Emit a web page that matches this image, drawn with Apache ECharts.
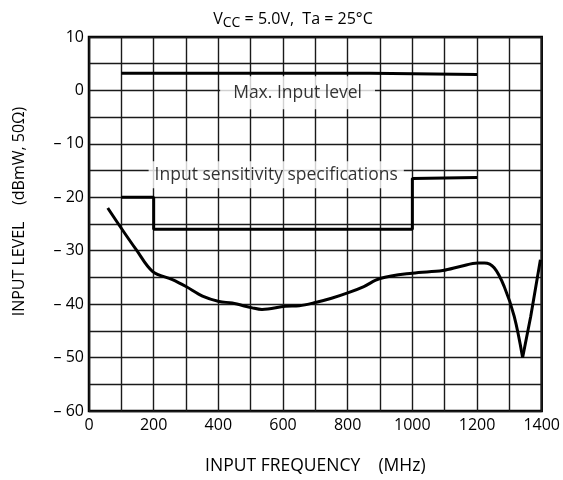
<!DOCTYPE html>
<html>
<head>
<meta charset="utf-8">
<script src="https://cdn.jsdelivr.net/npm/echarts@6/dist/echarts.min.js"></script>
<style>html,body{margin:0;padding:0;background:#fff}#c{width:563px;height:480px}</style>
</head>
<body>
<div id="c"></div>
<script>
// ---- data ----
var maxInputLevel = [[100, 3.2], [870, 3.2], [870, 3.0], [1200, 3.0]];
var sensitivitySpec = [[100, -20], [200, -20], [200, -26], [1000, -26], [1000, -16.5], [1200, -16.3]];
var responseCurve = [[58,-22],[100,-25.8],[146,-29.8],[197,-33.9],[258,-35.4],[300,-36.7],[351,-38.5],[402,-39.5],[443,-39.8],[505,-40.7],[535,-41.0],[607,-40.4],[650,-40.3],[700,-39.7],[750,-38.9],[800,-37.9],[850,-36.7],[900,-35.2],[1000,-34.2],[1094,-33.7],[1151,-32.9],[1202,-32.3],[1223,-32.3],[1253,-33.2],[1284,-36.7],[1315,-42.3],[1341,-50]];
var responseTail = [[1341,-50],[1366,-42.3],[1396,-31.7]];
var annotations = [[645, -0.45, 'Max. Input level'], [579, -15.8, 'Input sensitivity specifications']];
var xTickLabels = [0, 200, 400, 600, 800, 1000, 1200, 1400];
var yTickLabels = [10, 0, -10, -20, -30, -40, -50, -60];

var FONT = 'Open Sans';
var chart = echarts.init(document.getElementById('c'), null, {renderer: 'canvas'});
function fmtY(v) {
  if (yTickLabels.indexOf(v) < 0) return '';
  return v < 0 ? '\u2013 ' + (-v) : String(v);
}
function fmtX(v) { return xTickLabels.indexOf(v) < 0 ? '' : String(v); }

chart.setOption({
  animation: false,
  backgroundColor: '#fff',
  title: {
    text: '{a|V}{b|CC}{a| = 5.0V,  Ta = 25°C}',
    left: 288, top: 3, textAlign: 'center',
    textStyle: {
      fontWeight: 'normal',
      rich: {
        a: {fontFamily: FONT, fontSize: 16, fontWeight: 'normal', color: '#000'},
        b: {fontFamily: FONT, fontSize: 14, fontWeight: 'normal', color: '#000', padding: [8, 0, 0, 0]}
      }
    }
  },
  grid: {left: 89, right: 19, top: 37, bottom: 68, show: true, borderColor: '#000', borderWidth: 2.5, containLabel: false},
  xAxis: {
    type: 'value', min: 0, max: 1400, interval: 100,
    name: 'INPUT FREQUENCY    (MHz)', nameLocation: 'middle', nameGap: 46,
    nameTextStyle: {fontFamily: FONT, fontSize: 17.5, color: '#000'},
    axisLine: {show: false}, axisTick: {show: false},
    axisLabel: {formatter: fmtX, fontFamily: FONT, fontSize: 16, color: '#000', margin: 6, showMinLabel: true, showMaxLabel: true},
    splitLine: {show: true, lineStyle: {color: '#1a1a1a', width: 1.4}}
  },
  yAxis: {
    type: 'value', min: -60, max: 10, interval: 5,
    name: 'INPUT LEVEL    (dBmW, 50Ω)', nameLocation: 'middle', nameGap: 62, nameRotate: 90,
    nameTextStyle: {fontFamily: FONT, fontSize: 16, color: '#000', padding: [0, 0, 0, 25]},
    axisLine: {show: false}, axisTick: {show: false},
    axisLabel: {formatter: fmtY, fontFamily: FONT, fontSize: 16, color: '#000', margin: 5, padding: [8, 0, 0, 0], showMinLabel: true, showMaxLabel: true},
    splitLine: {show: true, lineStyle: {color: '#1a1a1a', width: 1.4}}
  },
  series: [
    {
      type: 'scatter', z: 1, symbolSize: 0, silent: true,
      data: annotations.map(function (a, i) {
        return {
          value: [a[0], a[1]],
          label: {
            show: true, position: 'inside', formatter: a[2],
            fontFamily: FONT, fontSize: 17.5, color: '#000', lineHeight: 18,
            backgroundColor: '#fff',
            padding: i === 0 ? [10, 13, 5, 13] : [5, 6, 4, 6]
          }
        };
      })
    },
    {type: 'line', z: 3, data: maxInputLevel, symbol: 'none', lineStyle: {color: '#000', width: 3}},
    {type: 'line', z: 3, data: sensitivitySpec, symbol: 'none', lineStyle: {color: '#000', width: 3}},
    {type: 'line', z: 3, data: responseCurve, symbol: 'none', smooth: 0.35, lineStyle: {color: '#000', width: 3}},
    {type: 'line', z: 3, data: responseTail, symbol: 'none', lineStyle: {color: '#000', width: 3}}
  ]
});
</script>
</body>
</html>
